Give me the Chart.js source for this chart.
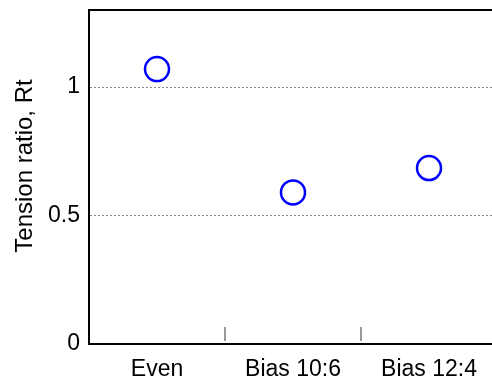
<!DOCTYPE html>
<html>
<head>
<meta charset="utf-8">
<script src="https://cdn.jsdelivr.net/npm/chart.js@4/dist/chart.umd.min.js"></script>
<style>
  html, body { margin: 0; padding: 0; background: #fff; overflow: hidden; }
  #wrap { width: 500px; height: 380px; }
</style>
</head>
<body>
<div id="wrap"><canvas id="chart" width="500" height="380"></canvas></div>
<script>
// datos
const categories = ["Even", "Bias 10:6", "Bias 12:4"];
const tensionRatio = [1.07, 0.59, 0.685];
const yTicks = [0, 0.5, 1];
const yTitle = "Tension ratio, Rt";

const FONT = "'Liberation Sans', Arial, sans-serif";
Chart.defaults.font.family = FONT;
Chart.defaults.color = "#000";

// marco superior, titulo del eje y marcas entre categorias (hacia dentro)
const framePlugin = {
  id: "frame",
  afterDraw(chart) {
    const { ctx, chartArea, scales } = chart;
    ctx.save();
    ctx.strokeStyle = "#000";
    ctx.lineWidth = 2;
    ctx.beginPath();
    ctx.moveTo(chartArea.left - 1, chartArea.top);
    ctx.lineTo(chartArea.right, chartArea.top);
    ctx.stroke();

    ctx.strokeStyle = "#777";
    ctx.lineWidth = 1.5;
    for (let i = 0; i < categories.length - 1; i++) {
      const x = Math.round(scales.x.getPixelForValue(i + 0.5));
      ctx.beginPath();
      ctx.moveTo(x, chartArea.bottom - 3);
      ctx.lineTo(x, chartArea.bottom - 17);
      ctx.stroke();
    }

    // el titulo del original esta algo por encima del centro
    ctx.translate(32, 166);
    ctx.rotate(-Math.PI / 2);
    ctx.fillStyle = "#000";
    ctx.font = "24px " + FONT;
    ctx.textAlign = "center";
    ctx.textBaseline = "alphabetic";
    ctx.fillText(yTitle, 0, 0);
    ctx.restore();
  }
};

const ctx = document.querySelector("#chart");
const chart = new Chart(ctx, {
  type: "line",
  data: {
    labels: categories,
    datasets: [
      {
        label: "Rt",
        data: tensionRatio,
        showLine: false,
        pointStyle: "circle",
        pointRadius: 12,
        pointHoverRadius: 12,
        pointBorderWidth: 2.5,
        borderColor: "#0000ff",
        backgroundColor: "rgba(0,0,0,0)",
      },
    ],
  },
  options: {
    responsive: false,
    animation: false,
    layout: { autoPadding: false, padding: { top: 10, right: 3, left: 0, bottom: 0 } },
    plugins: { legend: { display: false }, tooltip: { enabled: false } },
    scales: {
      x: {
        offset: true,
        grid: { display: false },
        border: { color: "#000", width: 2 },
        ticks: { font: { size: 23 }, padding: 4, maxRotation: 0 },
        afterFit: (scale) => {
          scale.height = 36;
          scale.paddingLeft = 0;
          scale.paddingRight = 0;
        },
      },
      y: {
        min: 0,
        max: 1.3,
        afterBuildTicks: (scale) => {
          scale.ticks = yTicks.map((v) => ({ value: v }));
        },
        grid: {
          drawTicks: false,
          color: (c) => (c.tick && c.tick.value === 0 ? "rgba(0,0,0,0)" : "#888"),
          lineWidth: 1,
        },
        border: { color: "#000", width: 2, dash: [2, 2] },
        ticks: {
          font: { size: 23 },
          padding: 9,
          callback: (v) => String(v),
        },
        afterFit: (scale) => {
          scale.width = 89;
          scale.paddingTop = 0;
          scale.paddingBottom = 0;
        },
      },
    },
  },
  plugins: [framePlugin],
});
</script>
</body>
</html>
